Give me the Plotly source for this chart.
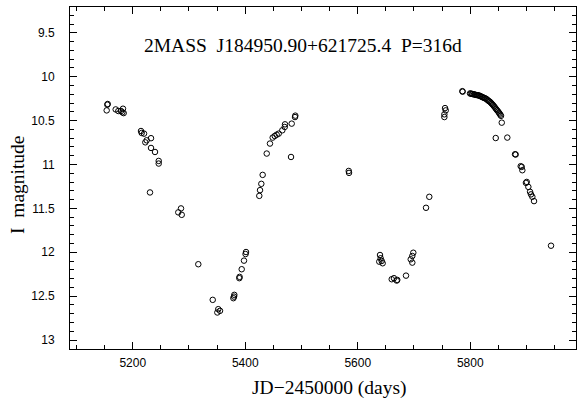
import plotly.graph_objects as go

# Light-curve data
jd = [
    5154.8, 5155.5, 5153.7, 5169.7, 5174.4, 5179.2, 5182.7, 5183.9, 5181.5,
    5214.7, 5215.9, 5220.1, 5232.5, 5224.8, 5222.4, 5232.5, 5239.6, 5246.2, 5246.2,
    5230.7, 5285.8, 5281.0, 5287.1, 5316.6, 5342.2, 5352.1, 5350.4, 5355.2,
    5380.1, 5380.6, 5378.9, 5389.5, 5390.0, 5393.7, 5397.8, 5401.4, 5400.6,
    5425.0, 5426.3, 5428.6, 5431.0, 5438.2, 5444.0, 5448.8, 5452.4, 5455.9,
    5459.5, 5465.9, 5470.7, 5470.2, 5481.4, 5482.6, 5488.5, 5489.0,
    5584.5, 5584.0,
    5639.6, 5640.7, 5642.6, 5638.3, 5644.3, 5660.4, 5664.4, 5669.2, 5670.3,
    5685.8, 5698.8, 5697.0, 5694.2, 5697.0, 5721.4, 5727.2,
    5754.0, 5754.0, 5755.2, 5756.4, 5786.0, 5786.5,
    5799.6, 5801.0, 5803.1, 5804.5, 5806.7, 5808.0, 5810.2, 5812.0, 5813.8, 5815.5,
    5817.4, 5819.0, 5820.9, 5822.5, 5824.5, 5826.0, 5828.0, 5830.0, 5831.6, 5833.5,
    5835.2, 5837.0, 5838.7, 5840.5, 5842.3, 5844.0, 5845.8, 5847.5, 5849.4, 5851.0,
    5852.1, 5853.5, 5854.7,
    5856.0, 5845.3, 5865.9, 5880.8, 5879.6, 5889.7, 5891.5, 5892.6,
    5899.0, 5900.4, 5903.3, 5906.3, 5908.0, 5910.4, 5913.4, 5943.6,
]
mag = [
    10.318, 10.310, 10.383, 10.372, 10.390, 10.390, 10.364, 10.414, 10.405,
    10.618, 10.640, 10.648, 10.700, 10.724, 10.747, 10.811, 10.857, 10.959, 10.989,
    11.318, 11.500, 11.545, 11.573, 12.136, 12.542, 12.648, 12.686, 12.667,
    12.505, 12.485, 12.523, 12.295, 12.280, 12.193, 12.095, 11.997, 12.020,
    11.357, 11.292, 11.220, 11.118, 10.875, 10.761, 10.693, 10.675, 10.660,
    10.648, 10.610, 10.542, 10.572, 10.914, 10.534, 10.459, 10.443,
    11.095, 11.073,
    12.031, 12.068, 12.099, 12.107, 12.125, 12.307, 12.295, 12.322, 12.315,
    12.266, 12.005, 12.042, 12.080, 12.118, 11.493, 11.368,
    10.428, 10.459, 10.357, 10.383, 10.164, 10.170,
    10.190, 10.192, 10.195, 10.198, 10.200, 10.203, 10.207, 10.209, 10.210, 10.214,
    10.218, 10.224, 10.230, 10.235, 10.240, 10.245, 10.250, 10.260, 10.270, 10.278,
    10.286, 10.298, 10.310, 10.322, 10.337, 10.350, 10.366, 10.380, 10.394, 10.408,
    10.420, 10.432, 10.445,
    10.523, 10.698, 10.693, 10.886, 10.883, 11.019, 11.027, 11.065,
    11.209, 11.198, 11.255, 11.311, 11.340, 11.368, 11.417, 11.925,
]

title_text = "2MASS  J184950.90+621725.4  P=316d"
x_title = "JD\u22122450000 (days)"
y_title = "I  magnitude"

fig = go.Figure()
fig.add_trace(go.Scatter(
    x=jd, y=mag, mode="markers",
    marker=dict(symbol="circle-open", size=5.5, color="black", line=dict(width=1, color="black")),
    showlegend=False, hoverinfo="skip",
))

axis_common = dict(
    showline=True, linecolor="black", linewidth=1, mirror="ticks",
    ticks="inside", tickcolor="black", tickwidth=1, ticklen=7,
    showgrid=False, zeroline=False,
    tickfont=dict(family="Liberation Sans", size=12, color="black"),
)

fig.update_xaxes(
    range=[5088.5, 5988], tick0=5000, dtick=200,
    minor=dict(dtick=50, ticks="inside", ticklen=4, tickcolor="black", tickwidth=1, showgrid=False),
    ticklabelstandoff=3,
    **axis_common,
)
fig.update_yaxes(
    range=[13.102, 9.205], tick0=0, dtick=0.5,
    minor=dict(dtick=0.1, ticks="inside", ticklen=4, tickcolor="black", tickwidth=1, showgrid=False),
    ticklabelstandoff=12,
    **axis_common,
)

serif = dict(family="Liberation Serif", size=19.5, color="black")
fig.update_layout(
    width=577, height=401,
    margin=dict(l=70, r=1, t=7, b=52),
    paper_bgcolor="white", plot_bgcolor="white",
    annotations=[
        dict(text=title_text, x=0.4595, y=0.886, xref="paper", yref="paper",
             showarrow=False, font=serif, xanchor="center", yanchor="middle"),
        dict(text=x_title, x=0.5128, y=-0.114, xref="paper", yref="paper",
             showarrow=False, font=serif, xanchor="center", yanchor="middle"),
        dict(text=y_title, x=-0.1047, y=0.4795, xref="paper", yref="paper",
             showarrow=False, font=serif, xanchor="center", yanchor="middle", textangle=-90),
    ],
)

fig.write_html("out.html", config={"displayModeBar": False},
               post_script="document.body.style.margin='0';document.body.style.overflow='hidden';")
